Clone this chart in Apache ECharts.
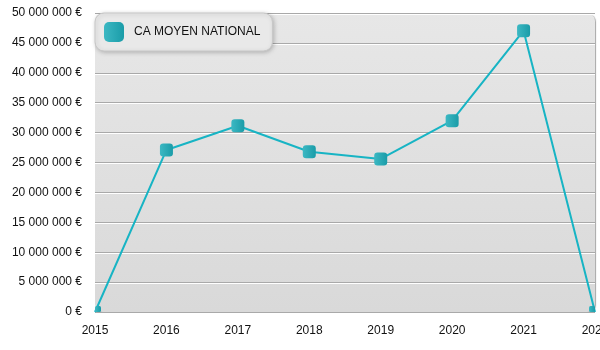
<!DOCTYPE html>
<html>
<head>
<meta charset="utf-8">
<style>
  html, body { margin: 0; padding: 0; background: #ffffff; }
  #chart { width: 600px; height: 350px; }
</style>
<script src="https://cdn.jsdelivr.net/npm/echarts@6/dist/echarts.min.js"></script>
</head>
<body>
<div id="chart"></div>
<script>
// Average national turnover per year
const years = ['2015', '2016', '2017', '2018', '2019', '2020', '2021', '2022'];
const caMoyen = [0, 27100000, 31150000, 26800000, 25600000, 32000000, 47050000, 0];
const seriesName = 'CA MOYEN NATIONAL';

const yMin = 0;
const yMax = 50000000;
const yStep = 5000000;

// plot frame
const gridLeft = 95, gridTop = 13, gridWidth = 500, gridHeight = 299;

function euro(v) {
  return String(v).replace(/\B(?=(\d{3})+(?!\d))/g, ' ') + ' €';
}

const markerFill = new echarts.graphic.LinearGradient(0, 0, 1, 0, [
  { offset: 0, color: '#3cb8c3' },
  { offset: 1, color: '#1a9ca8' }
]);

const chart = echarts.init(document.getElementById('chart'), null, { renderer: 'canvas' });

// edge points sit on the frame corners, only a sliver shows inside
const seriesData = caMoyen.map((v, i) => {
  if (i === 0) return { value: v, symbolSize: 6, symbolOffset: [3, -3] };
  if (i === caMoyen.length - 1) return { value: v, symbolSize: 6, symbolOffset: [-3, -3] };
  return v;
});

chart.setOption({
  animation: false,
  textStyle: { fontFamily: '"Liberation Sans", Arial, sans-serif' },
  graphic: [{
    type: 'rect',
    z: -10,
    silent: true,
    shape: { x: gridLeft, y: gridTop, width: gridWidth, height: gridHeight, r: 8 },
    style: {
      fill: new echarts.graphic.LinearGradient(0, 0, 0, 1, [
        { offset: 0, color: '#e7e7e7' },
        { offset: 1, color: '#d9d9d9' }
      ]),
      shadowColor: 'rgba(0,0,0,0.35)',
      shadowOffsetX: 1,
      shadowOffsetY: 1,
      shadowBlur: 1
    }
  }],
  legend: {
    data: [seriesName],
    left: gridLeft,
    top: gridTop,
    padding: [9, 12, 9, 9],
    itemWidth: 20,
    itemHeight: 20,
    icon: 'roundRect',
    backgroundColor: '#e9e9e9',
    borderColor: '#c8c8c8',
    borderWidth: 1,
    borderRadius: 9,
    shadowColor: 'rgba(0,0,0,0.22)',
    shadowBlur: 4,
    shadowOffsetX: 1,
    shadowOffsetY: 1,
    itemStyle: { color: markerFill },
    textStyle: { color: '#111', fontSize: 12, padding: [0, 0, 0, 5] }
  },
  grid: {
    left: gridLeft,
    top: gridTop,
    width: gridWidth,
    height: gridHeight,
    containLabel: false,
    outerBoundsMode: 'none'
  },
  xAxis: {
    type: 'category',
    data: years,
    boundaryGap: false,
    axisLine: { show: false },
    axisTick: { show: false },
    axisLabel: { color: '#111', fontSize: 12, margin: 13 },
    splitLine: { show: false }
  },
  yAxis: {
    type: 'value',
    min: yMin,
    max: yMax,
    interval: yStep,
    axisLine: { show: false },
    axisTick: { show: false },
    axisLabel: { color: '#111', fontSize: 12, margin: 13, formatter: euro },
    splitLine: {
      show: true,
      lineStyle: {
        color: '#a9a9a9',
        width: 1,
        shadowColor: '#ffffff',
        shadowOffsetY: 1,
        shadowBlur: 0
      }
    }
  },
  series: [{
    name: seriesName,
    type: 'line',
    data: seriesData,
    symbol: 'roundRect',
    symbolSize: 13,
    showAllSymbol: true,
    clip: false,
    lineStyle: { color: '#17b4c4', width: 2 },
    itemStyle: { color: markerFill, borderWidth: 0 },
    z: 3
  }]
});
</script>
</body>
</html>
